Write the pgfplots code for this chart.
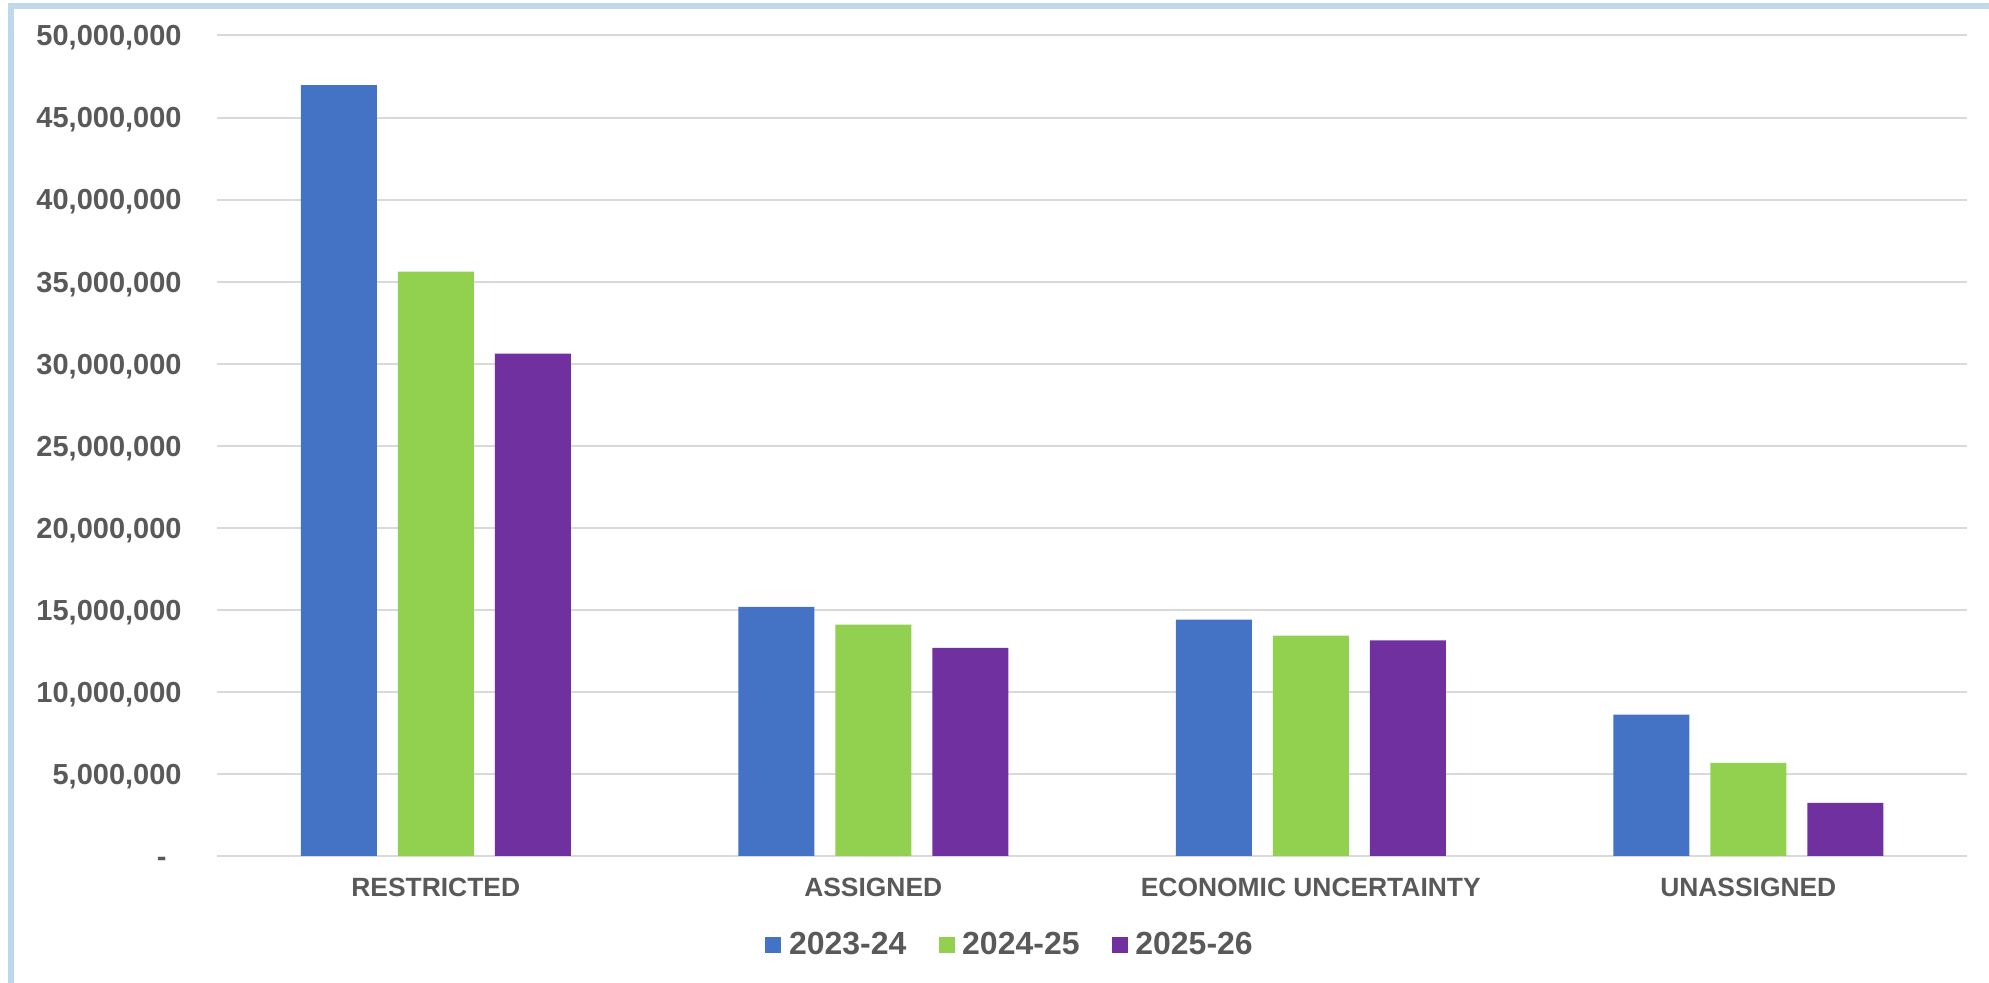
\documentclass[border=0pt]{standalone}
\usepackage{pgfplots}
\pgfplotsset{compat=1.18}
\usepackage{fontspec}
\setmainfont{Liberation Sans}

\definecolor{fyA}{HTML}{4472C4}
\definecolor{fyB}{HTML}{92D050}
\definecolor{fyC}{HTML}{7030A0}
\definecolor{labelgray}{HTML}{595959}
\definecolor{gridgray}{HTML}{D9D9D9}
\definecolor{framebl}{HTML}{C0D9EA}

\begin{document}
\begin{tikzpicture}
\path[use as bounding box] (0,0) rectangle (994.5pt,491.5pt);
% chart frame (left and top edges)
\draw[framebl, line width=3pt] (5.5pt,-2pt) -- (5.5pt,488.25pt) -- (1000pt,488.25pt);

\begin{axis}[
  at={(108.5pt,63.5pt)}, anchor=south west,
  scale only axis, width=875pt, height=410.25pt,
  ybar=10.5pt, bar width=38pt,
  xmin=-0.5, xmax=3.5, ymin=0, ymax=50000000,
  scaled y ticks=false,
  xtick={0,1,2,3},
  xticklabels={RESTRICTED,ASSIGNED,ECONOMIC UNCERTAINTY,UNASSIGNED},
  ytick={0,5000000,10000000,15000000,20000000,25000000,30000000,35000000,40000000,45000000,50000000},
  yticklabels={{-\hspace*{7.5pt}},{5,000,000},{10,000,000},{15,000,000},{20,000,000},{25,000,000},{30,000,000},{35,000,000},{40,000,000},{45,000,000},{50,000,000}},
  axis line style={draw=none},
  major tick length=0pt,
  ymajorgrids, grid style={gridgray, line width=1pt},
  yticklabel style={anchor=base east, inner sep=0pt, xshift=-17.5pt, yshift=-5.2pt,
    font=\bfseries\fontsize{14.5}{14.5}\selectfont, text=labelgray},
  xticklabel style={anchor=base, inner sep=0pt, yshift=-20.4pt,
    font=\bfseries\fontsize{13.2}{13.2}\selectfont, text=labelgray},
  legend columns=3,
  legend image code/.code={\fill[#1] (0pt,-4pt) rectangle (8pt,4pt);},
  legend style={draw=none, fill=none, at={(0.4526,-0.1085)}, anchor=center,
    font=\bfseries\fontsize{16}{16}\selectfont, text=labelgray,
    nodes={inner sep=0pt},
    /tikz/every odd column/.append style={column sep=3.85pt},
    /tikz/every even column/.append style={column sep=16pt}},
]
\addplot[fill=fyA, draw=none] coordinates {(0,46980000) (1,15180000) (2,14410000) (3,8610000)};
\addplot[fill=fyB, draw=none] coordinates {(0,35610000) (1,14100000) (2,13430000) (3,5670000)};
\addplot[fill=fyC, draw=none] coordinates {(0,30610000) (1,12690000) (2,13140000) (3,3240000)};
\legend{2023-24,2024-25,2025-26}
\end{axis}
\end{tikzpicture}
\end{document}
